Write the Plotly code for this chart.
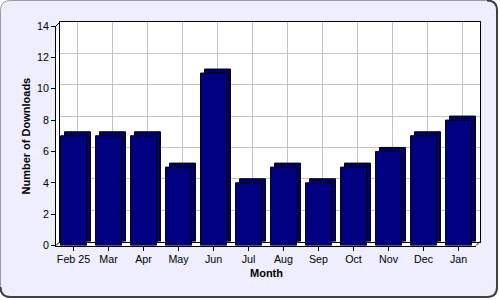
import plotly.graph_objects as go

months = ["Feb 25", "Mar", "Apr", "May", "Jun", "Jul", "Aug", "Sep", "Oct", "Nov", "Dec", "Jan"]
downloads = [7, 7, 7, 5, 11, 4, 5, 4, 5, 6, 7, 8]
y_ticks = [0, 2, 4, 6, 8, 10, 12, 14]

W, H = 500, 300
D = 4  # 3D depth in px

# front plot box (pixels)
FX0, FX1, FY0, FY1 = 56, 476, 26, 245.5  # left, right, top, bottom


def px(x):
    return x / W


def py(y):
    return 1 - y / H


def path(cmds):
    out = []
    for c in cmds:
        if c[0] == "Z":
            out.append("Z")
        elif c[0] == "Q":
            out.append(f"Q {px(c[1]):.5f},{py(c[2]):.5f} {px(c[3]):.5f},{py(c[4]):.5f}")
        else:
            out.append(f"{c[0]} {px(c[1]):.5f},{py(c[2]):.5f}")
    return " ".join(out)


font = "Arial, Liberation Sans, sans-serif"
navy = "#000080"

fig = go.Figure()
# back faces (depth) on back-wall axes
fig.add_trace(go.Bar(x=months, y=downloads, xaxis="x", yaxis="y",
                     marker=dict(color="#000068", line=dict(color="black", width=1)),
                     hoverinfo="skip", showlegend=False))
# front faces on front axes
fig.add_trace(go.Bar(x=months, y=downloads, xaxis="x2", yaxis="y2",
                     marker=dict(color=navy, line=dict(color="black", width=1)),
                     showlegend=False))

r = 10
X0, Y0, X1, Y1 = 0.5, 0.5, 497, 297
frame = path([("M", X0 + r, Y0), ("L", X1 - r, Y0), ("Q", X1, Y0, X1, Y0 + r),
              ("L", X1, Y1 - r), ("Q", X1, Y1, X1 - r, Y1), ("L", X0 + r, Y1),
              ("Q", X0, Y1, X0, Y1 - r), ("L", X0, Y0 + r), ("Q", X0, Y0, X0 + r, Y0), ("Z",)])
shadow = path([("M", X1 - r, Y0), ("Q", X1, Y0, X1, Y0 + r),
               ("L", X1, Y1 - r), ("Q", X1, Y1, X1 - r, Y1), ("L", X0 + r, Y1),
               ("Q", X0, Y1, X0, Y1 - r)])
wall = path([("M", FX0, FY0), ("L", FX0 + D, FY0 - D), ("L", FX1 + D, FY0 - D),
             ("L", FX1 + D, FY1 - D), ("L", FX1, FY1), ("L", FX0, FY1), ("Z",)])

shapes = [
    dict(type="path", xref="paper", yref="paper", path=frame, fillcolor="#eeeeff",
         line=dict(color="#9a9a9a", width=1), layer="below"),
    dict(type="path", xref="paper", yref="paper", path=shadow,
         line=dict(color="#404040", width=2), layer="below"),
    dict(type="path", xref="paper", yref="paper", path=wall, fillcolor="white",
         line=dict(width=0), layer="below"),
]
for (a, b) in [((FX0, FY0), (FX0 + D, FY0 - D)), ((FX0, FY1), (FX0 + D, FY1 - D)),
               ((FX1, FY1), (FX1 + D, FY1 - D))]:
    shapes.append(dict(type="line", xref="paper", yref="paper",
                       x0=px(a[0]), y0=py(a[1]), x1=px(b[0]), y1=py(b[1]),
                       line=dict(color="black", width=1), layer="below"))

annotations = [
    dict(text="<b>Month</b>", xref="paper", yref="paper", x=px(266), y=py(273),
         xanchor="center", yanchor="middle", showarrow=False, font=dict(size=11)),
    dict(text="<b>Number of Downloads</b>", xref="paper", yref="paper", x=px(25.5),
         y=py(136), xanchor="center", yanchor="middle", textangle=-90,
         showarrow=False, font=dict(size=11)),
]

fig.update_layout(
    width=W, height=H, autosize=False,
    margin=dict(l=0, r=0, t=0, b=0, pad=0, autoexpand=False),
    paper_bgcolor="white",
    plot_bgcolor="rgba(0,0,0,0)",
    bargap=0.26,
    font=dict(family=font, size=11, color="black"),
    shapes=shapes,
    annotations=annotations,
    xaxis=dict(domain=[px(FX0 + D), px(FX1 + D)], anchor="y", type="category",
               range=[-0.5, len(months) - 0.5], showgrid=True, gridcolor="#c4c4c4",
               gridwidth=1, showticklabels=False, ticks="", showline=True, mirror=True,
               linecolor="black", linewidth=1, zeroline=False, fixedrange=True,
               automargin=False),
    yaxis=dict(domain=[py(FY1 - D), py(FY0 - D)], anchor="x", range=[0, 14],
               tickvals=y_ticks, showgrid=True, gridcolor="#c4c4c4", gridwidth=1,
               showticklabels=False, ticks="", showline=True, mirror=True,
               linecolor="black", linewidth=1, zeroline=False, fixedrange=True,
               automargin=False),
    xaxis2=dict(domain=[px(FX0), px(FX1)], anchor="y2", type="category",
                range=[-0.5, len(months) - 0.5], showgrid=False, ticks="outside",
                ticklen=4, tickcolor="black", showline=True, linecolor="black",
                linewidth=1, zeroline=False, fixedrange=True,
                tickfont=dict(size=10.7), automargin=False),
    yaxis2=dict(domain=[py(FY1), py(FY0)], anchor="x2", range=[0, 14],
                tickvals=y_ticks, showgrid=False, ticks="outside", ticklen=4,
                tickcolor="black", showline=True, linecolor="black", linewidth=1,
                zeroline=False, fixedrange=True, tickfont=dict(size=10.7),
                automargin=False),
)

fig.write_html("out.html", config={"displayModeBar": False})
